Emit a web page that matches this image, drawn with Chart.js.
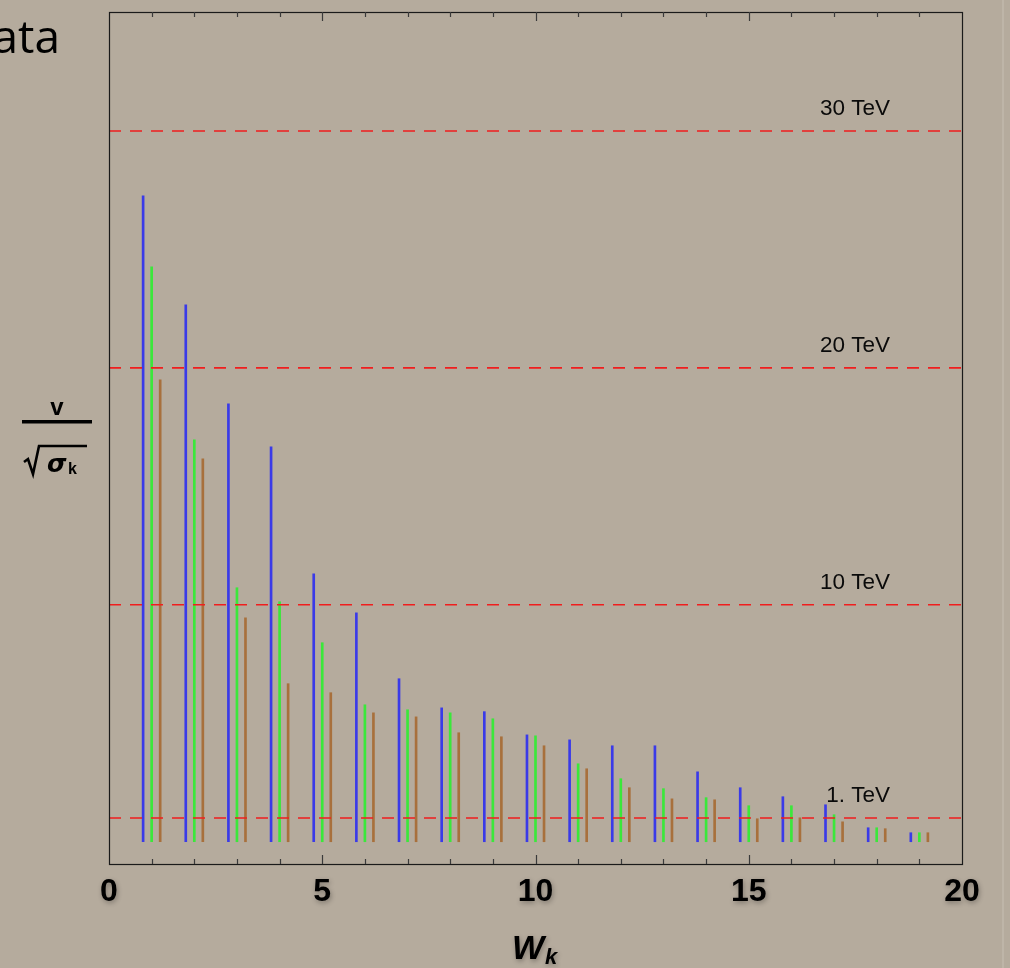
<!DOCTYPE html>
<html>
<head>
<meta charset="utf-8">
<script src="https://cdn.jsdelivr.net/npm/chart.js@4/dist/chart.umd.min.js"></script>
<style>
  html, body { margin: 0; padding: 0; background: #b5ab9d; }
  #wrap { width: 1010px; height: 968px; }
</style>
</head>
<body>
<div id="wrap"><canvas id="myChart" width="1010" height="968"></canvas></div>
<script>
// posisi W_k untuk tiap seri
const blueW  = [0.8, 1.8, 2.8, 3.8, 4.8, 5.8, 6.8, 7.8, 8.8, 9.8, 10.8, 11.8, 12.8, 13.8, 14.8, 15.8, 16.8, 17.8, 18.8];
const greenW = [1, 2, 3, 4, 5, 6, 7, 8, 9, 10, 11, 12, 13, 14, 15, 16, 17, 18, 19];
const brownW = [1.2, 2.2, 3.2, 4.2, 5.2, 6.2, 7.2, 8.2, 9.2, 10.2, 11.2, 12.2, 13.2, 14.2, 15.2, 16.2, 17.2, 18.2, 19.2];

// nilai v/sqrt(sigma_k) dalam TeV
const blueVals  = [27.26, 22.66, 18.48, 16.67, 11.31, 9.66, 6.88, 5.65, 5.49, 4.51, 4.30, 4.05, 4.05, 2.95, 2.28, 1.90, 1.56, 0.59, 0.38];
const greenVals = [24.26, 16.96, 10.72, 10.13, 8.40, 5.78, 5.57, 5.44, 5.19, 4.47, 3.29, 2.66, 2.24, 1.86, 1.52, 1.52, 1.14, 0.59, 0.38];
const brownVals = [19.50, 16.16, 9.45, 6.67, 6.29, 5.44, 5.27, 4.60, 4.43, 4.05, 3.08, 2.28, 1.81, 1.77, 0.97, 1.01, 0.84, 0.55, 0.38];

// garis referensi
const refLevels = [1, 10, 20, 30];
const refLabels = ['1. TeV', '10 TeV', '20 TeV', '30 TeV'];

// label sumbu x
const xTicks = [0, 5, 10, 15, 20];

const pts = (xs, ys) => xs.map((x, i) => ({ x: x, y: ys[i] }));

const spike = (label, xs, ys, color) => ({
  type: 'bar',
  label: label,
  data: pts(xs, ys),
  backgroundColor: color,
  borderWidth: 0,
  barThickness: 2,
  grouped: false,
  order: 1
});

const refLine = (lvl) => ({
  type: 'line',
  data: [{ x: 0, y: lvl }, { x: 20, y: lvl }],
  borderColor: '#f01e1e',
  borderWidth: 1.6,
  borderDash: [12, 9],
  pointRadius: 0,
  fill: false,
  order: 0
});

// plugin untuk latar, bingkai, tick dan teks
const decor = {
  id: 'decor',
  beforeDraw(chart) {
    const c = chart.ctx;
    c.save();
    c.fillStyle = '#b5ab9d';
    c.fillRect(0, 0, chart.width, chart.height);
    c.fillStyle = 'rgba(255,255,255,0.12)';
    c.fillRect(1002, 0, 2, chart.height);
    c.restore();
  },
  afterDraw(chart) {
    const c = chart.ctx;
    const a = chart.chartArea;
    const xs = chart.scales.x, ys = chart.scales.y;
    c.save();

    // bingkai
    c.strokeStyle = '#1a1a1a';
    c.lineWidth = 1.2;
    c.strokeRect(a.left + 0.5, a.top + 0.5, a.right - a.left, a.bottom - a.top);

    // tick kecil tiap 1, besar tiap 5
    c.strokeStyle = '#3a3a3a';
    c.lineWidth = 1.2;
    for (let v = 1; v < 20; v++) {
      const px = Math.round(xs.getPixelForValue(v)) + 0.5;
      const len = v % 5 === 0 ? 9 : 5;
      c.beginPath();
      c.moveTo(px, a.bottom); c.lineTo(px, a.bottom - len);
      c.moveTo(px, a.top); c.lineTo(px, a.top + len);
      c.stroke();
    }

    // label tick x
    c.fillStyle = '#000';
    c.shadowColor = 'rgba(0,0,0,0.3)';
    c.shadowBlur = 5;
    c.shadowOffsetX = 1;
    c.shadowOffsetY = 2;
    c.font = 'bold 32px "Liberation Sans", Arial, sans-serif';
    c.textAlign = 'center';
    c.textBaseline = 'middle';
    xTicks.forEach(v => c.fillText(String(v), xs.getPixelForValue(v), 892));

    // judul sumbu x: W_k
    c.font = 'italic bold 34px "Liberation Sans", Arial, sans-serif';
    c.textAlign = 'left';
    c.textBaseline = 'alphabetic';
    c.fillText('W', 512, 959);
    c.font = 'italic bold 22px "Liberation Sans", Arial, sans-serif';
    c.fillText('k', 545, 964);

    c.shadowColor = 'transparent';
    c.shadowBlur = 0;
    c.shadowOffsetX = 0;
    c.shadowOffsetY = 0;

    // label garis referensi
    c.font = '22.5px "Liberation Sans", Arial, sans-serif';
    c.fillStyle = '#0a0a0a';
    c.textAlign = 'right';
    c.textBaseline = 'middle';
    refLevels.forEach((lvl, i) => {
      c.fillText(refLabels[i], 890, ys.getPixelForValue(lvl) - 22);
    });

    // judul slide (terpotong)
    c.font = '46px "Open Sans", "Noto Sans", sans-serif';
    c.fillStyle = '#000';
    c.textAlign = 'right';
    c.textBaseline = 'alphabetic';
    c.fillText('Data', 60, 53);

    // label sumbu y: v / sqrt(sigma_k)
    c.fillStyle = '#000';
    c.textAlign = 'center';
    c.font = 'bold 24px "Liberation Sans", Arial, sans-serif';
    c.fillText('v', 57, 415);
    c.fillRect(22, 420, 70, 3.5);
    // tanda akar
    c.strokeStyle = '#000';
    c.lineWidth = 2.6;
    c.lineJoin = 'miter';
    c.beginPath();
    c.moveTo(24, 462);
    c.lineTo(28, 459);
    c.lineTo(33, 474);
    c.lineTo(39, 446);
    c.lineTo(87, 446);
    c.stroke();
    c.textAlign = 'left';
    c.font = 'italic bold 25px "DejaVu Sans", sans-serif';
    c.fillText('\u03C3', 47, 472);
    c.font = 'bold 16px "Liberation Sans", Arial, sans-serif';
    c.fillText('k', 68, 474);

    c.restore();
  }
};

const ctx = document.getElementById('myChart').getContext('2d');

const myChart = new Chart(ctx, {
  type: 'bar',
  data: {
    datasets: [
      spike('blue', blueW, blueVals, '#3a3ae8'),
      spike('green', greenW, greenVals, '#3ae83a'),
      spike('brown', brownW, brownVals, '#a8703c'),
      ...refLevels.map(refLine)
    ]
  },
  options: {
    responsive: false,
    animation: false,
    layout: { padding: { left: 109, right: 48, top: 12, bottom: 104 } },
    plugins: {
      legend: { display: false },
      tooltip: { enabled: false }
    },
    scales: {
      x: {
        type: 'linear',
        min: 0,
        max: 20,
        offset: false,
        display: false
      },
      y: {
        type: 'linear',
        min: -0.94,
        max: 35.02,
        display: false
      }
    }
  },
  plugins: [decor]
});
</script>
</body>
</html>
